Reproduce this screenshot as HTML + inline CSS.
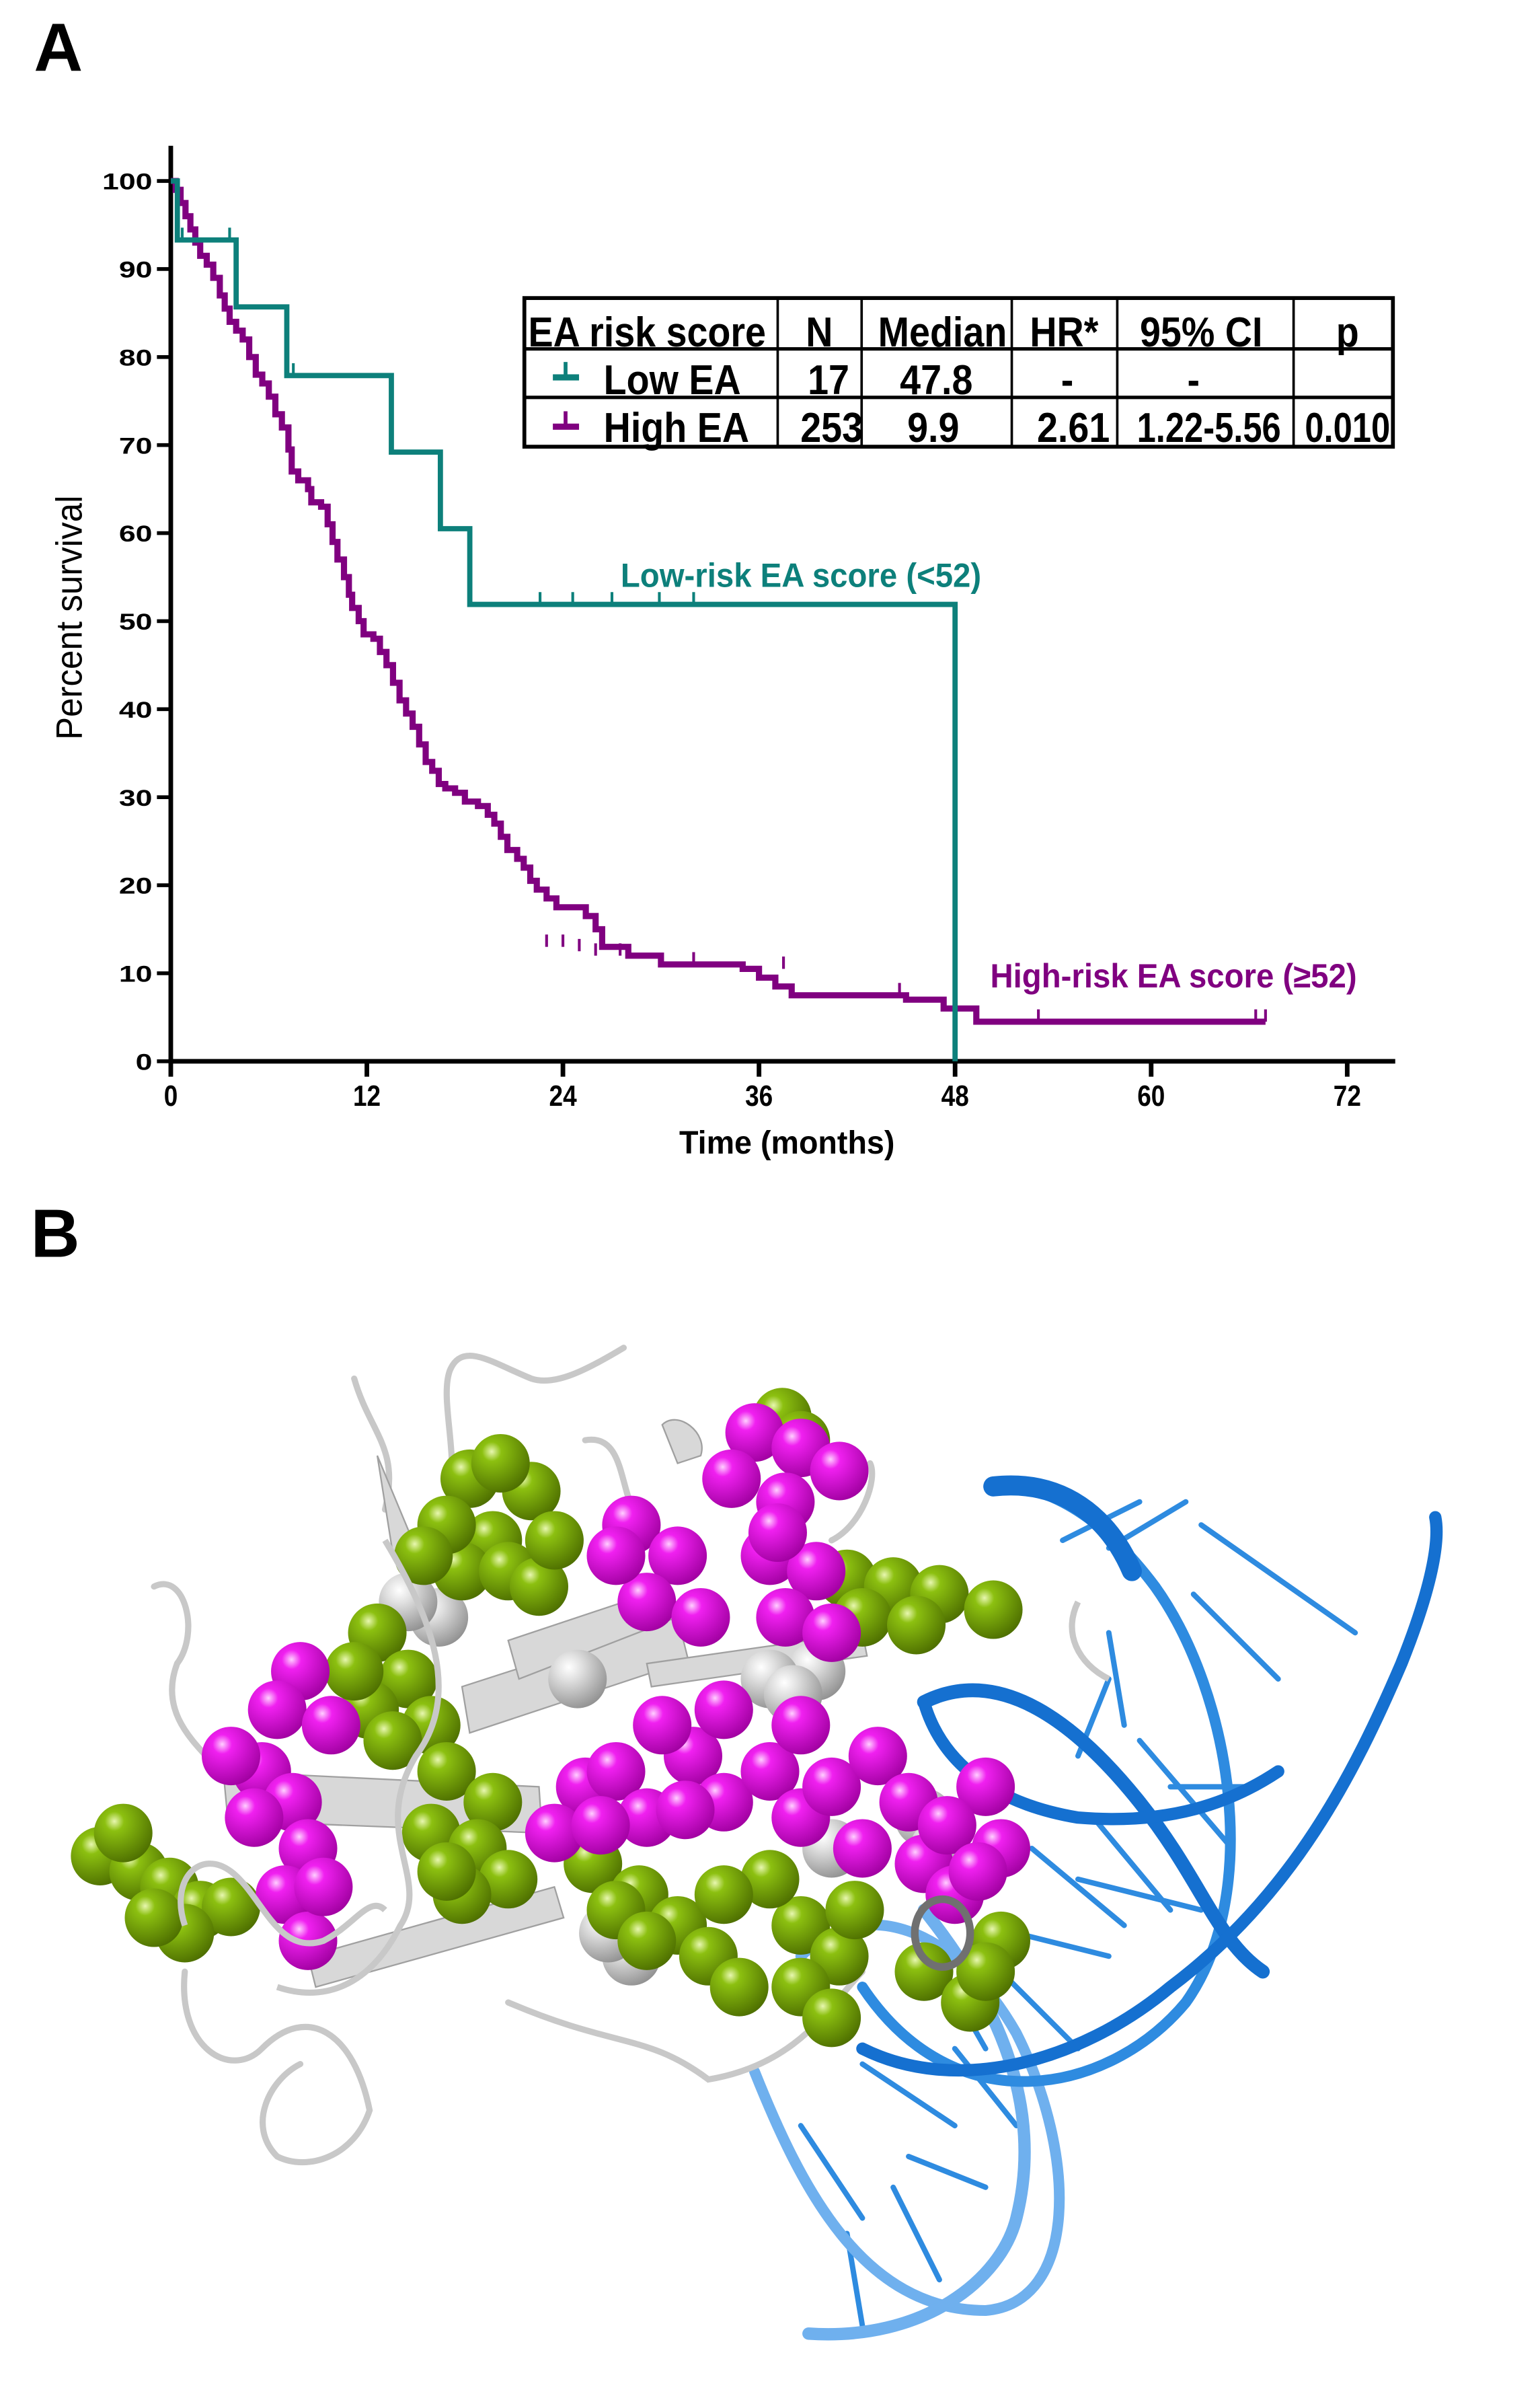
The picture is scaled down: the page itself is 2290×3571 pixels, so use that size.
<!DOCTYPE html>
<html><head><meta charset="utf-8"><style>
html,body{margin:0;padding:0;background:#fff}
svg{display:block}
text{font-family:"Liberation Sans",sans-serif;font-weight:bold}
</style></head><body>
<svg id="fig" width="2290" height="3571" viewBox="0 0 1000 1559.4" xmlns="http://www.w3.org/2000/svg">
<defs>
<radialGradient id="gG" cx="0.35" cy="0.3" r="0.75"><stop offset="0" stop-color="#e8f7b0"/><stop offset="0.22" stop-color="#8cc010"/><stop offset="1" stop-color="#4d6e00"/></radialGradient>
<radialGradient id="gM" cx="0.35" cy="0.3" r="0.75"><stop offset="0" stop-color="#ffd0ff"/><stop offset="0.22" stop-color="#f020f0"/><stop offset="1" stop-color="#a000a0"/></radialGradient>
<radialGradient id="gW" cx="0.35" cy="0.3" r="0.75"><stop offset="0" stop-color="#ffffff"/><stop offset="0.3" stop-color="#e0e0e0"/><stop offset="1" stop-color="#909090"/></radialGradient>
</defs>
<text x="22" y="46" font-size="44">A</text>
<text x="20" y="816" font-size="44">B</text>
<g id="chart"></g>
<g id="struct"></g>
</svg>
<script>
// ---- data ----
const lowTimes = [0, 0.4, 4.0, 7.1, 13.5, 16.5, 18.3, 48.0];
const lowSurv  = [100, 93.3, 85.7, 77.9, 69.2, 60.5, 51.9, 0];
const lowCensorTimes = [0.7, 3.6, 7.5, 22.6, 24.6, 27.0, 29.9, 32.0];
const lowCensorSurv  = [93.3, 93.3, 77.9, 51.9, 51.9, 51.9, 51.9, 51.9];
const highTimes = [0,0.3,0.6,0.9,1.2,1.5,1.8,2.2,2.6,3.0,3.3,3.6,4.0,4.4,4.8,5.2,5.6,6.0,6.4,6.8,7.2,7.4,7.8,8.4,8.6,9.2,9.6,9.9,10.2,10.6,10.9,11.1,11.5,11.8,12.4,12.8,13.2,13.6,14.0,14.4,14.8,15.2,15.6,16.0,16.4,16.8,17.4,18.0,18.8,19.4,19.8,20.2,20.6,21.2,21.6,22.0,22.4,23.0,23.6,24.8,25.4,26.0,26.4,28.0,30.0,35.0,36.0,37.0,38.0,45.0,47.3,49.3,67.0];
const highSurv  = [100,99,97.5,96,94.5,93,91.5,90.5,89,87,85.5,84,83,82,80,78,77,75.5,73.5,72,69.5,67,66,65,63.5,63,61,59,57,55,53,51.5,50,48.5,48,46.5,45,43,41,39.5,38,36,34,33,31.5,31,30.5,29.5,29,28,27,25.5,24,23,22,20.5,19.5,18.5,17.5,17.5,16.5,15,13,12,11,10.5,9.5,8.5,7.5,7,6,4.5,4.5];
const highCensorTimes = [23.0, 24.0, 25.0, 26.0, 27.5, 32.0, 37.5, 44.6, 53.1, 66.4, 67.0];
const highCensorSurv  = [13, 13, 12.5, 12, 12, 11, 10.5, 7.5, 4.5, 4.5, 4.5];
const xTicks = [0, 12, 24, 36, 48, 60, 72];
const yTicks = [0, 10, 20, 30, 40, 50, 60, 70, 80, 90, 100];

const NS = "http://www.w3.org/2000/svg";
function X(t){ return 110.9 + t * 10.61; }
function Y(s){ return 689 - s * 5.715; }
function mk(tag, attrs, parent){ const e=document.createElementNS(NS,tag); for(const k in attrs) e.setAttribute(k,attrs[k]); parent.appendChild(e); return e; }
function txt(parent, str, x, y, size, anchor, sx, fill, extra){
  const t = mk('text',Object.assign({x:0,y:0,'text-anchor':anchor,'font-size':size,fill:fill||'#000',transform:'translate('+x+','+y+') scale('+sx+',1)'},extra||{}),parent);
  t.textContent = str; return t;
}
const chart = document.getElementById('chart');

let ya = mk('line',{x1:X(0),y1:Y(0)+1.5,x2:X(0),y2:Y(104),stroke:'#000','stroke-width':3},chart);


let xa = mk('line',{x1:X(0)-1.5,y1:Y(0),x2:906,y2:Y(0),stroke:'#000','stroke-width':3},chart);


yTicks.forEach(v=>{
  let l = mk('line',{x1:X(0)-9,y1:Y(v),x2:X(0),y2:Y(v),stroke:'#000','stroke-width':2.5},chart);
  
  
  let t = txt(chart, String(v), X(0)-12, Y(v)+5.5, 15, 'end', 1.3);
  
  
});
xTicks.forEach(v=>{
  let l = mk('line',{x1:X(v),y1:Y(0),x2:X(v),y2:Y(0)+10,stroke:'#000','stroke-width':3},chart);
  
  
  let t = txt(chart, String(v), X(v), Y(0)+29, 19, 'middle', 0.85);
  
  
});
let yt = mk('text',{x:0,y:0,'text-anchor':'middle','font-size':24,transform:'translate(53,401) rotate(-90) scale(0.93,1)',style:'font-weight:normal'},chart);
yt.textContent='Percent survival';


let xt = txt(chart,'Time (months)',511,749,21,'middle',0.97);



function stepPath(ts, ss){
  let d = 'M'+X(ts[0])+','+Y(ss[0]);
  for(let i=1;i<ts.length;i++){ d += ' H'+X(ts[i])+' V'+Y(ss[i]); }
  return d;
}
let hp = mk('path',{d:stepPath(highTimes,highSurv),fill:'none',stroke:'#800080','stroke-width':4},chart);


highCensorTimes.forEach((t,i)=>{
  let c = mk('line',{x1:X(t),y1:Y(highCensorSurv[i]),x2:X(t),y2:Y(highCensorSurv[i])-8,stroke:'#800080','stroke-width':1.8},chart);
  
  
});
let lp = mk('path',{d:stepPath(lowTimes,lowSurv),fill:'none',stroke:'#0d807b','stroke-width':3.4},chart);


lowCensorTimes.forEach((t,i)=>{
  let c = mk('line',{x1:X(t),y1:Y(lowCensorSurv[i]),x2:X(t),y2:Y(lowCensorSurv[i])-8,stroke:'#0d807b','stroke-width':1.8},chart);
  
  
});
let ll = txt(chart,'Low-risk EA score (<52)',403,381,22,'start',0.94,'#0d807b');


let hl = txt(chart,'High-risk EA score (\u226552)',643,641,22,'start',0.94,'#800080');



const tbl = mk('g',{},chart);


const colX=[340.5,505,559.5,657,725.5,840,904.5];
const rowY=[193.5,226.5,258,290];
mk('rect',{x:colX[0],y:rowY[0],width:colX[6]-colX[0],height:rowY[3]-rowY[0],fill:'none',stroke:'#000','stroke-width':2.5},tbl);
rowY.slice(1,3).forEach(y=>mk('line',{x1:colX[0],y1:y,x2:colX[6],y2:y,stroke:'#000','stroke-width':2.2},tbl));
colX.slice(1,6).forEach(x=>mk('line',{x1:x,y1:rowY[0],x2:x,y2:rowY[3],stroke:'#000','stroke-width':1.6},tbl));
const cells=[
 [['EA risk score',343,'start'],['N',532,'middle'],['Median',612,'middle'],['HR*',691,'middle'],['95% CI',780,'middle'],['p',875,'middle']],
 [['Low EA',392,'start'],['17',538,'middle'],['47.8',608,'middle'],['-',693,'middle'],['-',775,'middle']],
 [['High EA',392,'start'],['253',540,'middle'],['9.9',606,'middle'],['2.61',697,'middle'],['1.22-5.56',785,'middle'],['0.010',875,'middle']]
];
const baseY=[225,256,287];
cells.forEach((row,ri)=>row.forEach(c=>{
  let t=txt(tbl,c[0],c[1],baseY[ri],27,c[2],c[0]==='1.22-5.56'||c[0]==='0.010'?0.82:0.9);
  
  
}));
[['#0d807b',245],['#800080',277]].forEach(m=>{
  mk('rect',{x:359,y:m[1]-2,width:17,height:4,fill:m[0]},tbl);
  mk('rect',{x:366,y:m[1]-10,width:2.5,height:9,fill:m[0]},tbl);
});

const S=document.getElementById('struct');
const dnaDark='#1570d0', dnaMid='#2e8be0', dnaLight='#6fb0ee';
const sticks=[[690,1000,740,975],[720,1005,770,975],[780,990,880,1060],[775,1035,830,1090],[720,1060,730,1120],[700,1140,720,1090],[740,1130,800,1200],[710,1180,760,1240],[670,1200,730,1250],[640,1250,720,1270],[600,1260,640,1330],[620,1330,660,1380],[560,1340,620,1380],[590,1400,640,1420],[550,1450,560,1510],[580,1420,610,1480],[760,1160,810,1160],[700,1220,780,1240],[650,1280,700,1330],[520,1380,560,1440]];
sticks.forEach(s=>mk('line',{x1:s[0],y1:s[1],x2:s[2],y2:s[3],stroke:dnaMid,'stroke-width':3.5,'stroke-linecap':'round'},S));
[
 ['M490,1345 C520,1420 560,1500 640,1500 C700,1495 700,1400 660,1320 C620,1250 560,1230 520,1270',dnaLight,7],
 ['M525,1515 C600,1520 650,1480 660,1440 C680,1360 640,1290 600,1240',dnaLight,8],
 ['M560,1290 C620,1380 720,1360 770,1300 C820,1230 800,1100 750,1030 C720,990 690,970 660,965',dnaMid,7],
 ['M645,965 C690,960 720,985 735,1020',dnaDark,13],
 ['M600,1105 C650,1080 700,1120 740,1170 C780,1220 790,1260 820,1280',dnaDark,9],
 ['M560,1330 C620,1360 700,1340 760,1290 C840,1230 880,1150 910,1080 C930,1030 935,1000 932,985',dnaDark,8],
 ['M600,1105 C610,1140 640,1170 700,1180 C760,1185 800,1170 830,1150',dnaDark,8]
].forEach(p=>mk('path',{d:p[0],fill:'none',stroke:p[1],'stroke-width':p[2],'stroke-linecap':'round'},S));
const gray='#c8c8c8';
['M405,875 C380,890 360,900 345,895 C320,885 300,870 292,890 C285,910 300,950 290,980',
 'M230,895 C240,930 260,940 250,980',
 'M100,1030 C120,1020 130,1060 115,1080 C100,1120 140,1140 150,1160',
 'M120,1280 C115,1330 150,1350 170,1330 C200,1300 230,1320 240,1370 C230,1400 200,1410 180,1400 C160,1380 175,1350 195,1340',
 'M330,1300 C400,1330 420,1320 460,1350 C520,1340 540,1300 560,1280',
 'M380,935 C410,930 400,980 420,990 C440,1010 430,1050 440,1060',
 'M540,1000 C560,990 570,960 565,950'
].forEach(d=>mk('path',{d:d,fill:'none',stroke:gray,'stroke-width':4,'stroke-linecap':'round'},S));
[['M145,1150 L350,1160 L352,1190 L148,1182 Z'],['M300,1095 L440,1050 L447,1078 L305,1125 Z'],['M330,1065 L420,1035 L427,1055 L337,1090 Z'],
 ['M200,1270 L360,1225 L366,1245 L205,1290 Z'],['M245,945 L270,1005 L255,1008 Z'],['M430,925 C440,915 460,930 455,945 L440,950 Z'],
 ['M420,1080 L560,1060 L563,1075 L423,1095 Z']]
.forEach(p=>mk('path',{d:p[0],fill:'#d8d8d8',stroke:'#a0a0a0','stroke-width':1},S));
const green=[[65,1205],[90,1215],[80,1190],[110,1225],[130,1240],[150,1238],[120,1255],[100,1245],
 [245,1060],[265,1090],[240,1110],[280,1120],[255,1130],[230,1085],[290,1150],[320,1170],
 [305,960],[345,968],[320,1000],[300,1020],[330,1020],[350,1030],[290,990],[360,1000],[325,950],[275,1010],
 [280,1190],[310,1200],[330,1220],[300,1230],[290,1215],
 [550,1025],[580,1030],[610,1035],[645,1045],[560,1050],[595,1055],[508,920],[520,935],
 [385,1210],[415,1230],[440,1250],[460,1270],[480,1290],[520,1250],[545,1270],[555,1240],[600,1280],[630,1300],[650,1260],[500,1220],[470,1230],[640,1280],[400,1240],[420,1260],[520,1290],[540,1310]];
const mag=[[195,1085],[180,1110],[170,1150],[190,1170],[200,1200],[185,1230],[200,1260],[165,1180],[150,1140],[215,1120],[210,1225],
 [410,990],[440,1010],[420,1040],[455,1050],[400,1010],
 [490,930],[520,940],[545,955],[510,975],[500,1010],[530,1020],[510,1050],[540,1060],[475,960],[505,995],
 [380,1160],[400,1150],[420,1180],[450,1140],[470,1170],[500,1150],[520,1180],[540,1160],[570,1140],[590,1170],[560,1200],[600,1210],[620,1230],[640,1160],[650,1200],[430,1120],[470,1110],[520,1120],[360,1190],[390,1185],[445,1175],[615,1185],[635,1215]];
const white=[[285,1050],[265,1040],[375,1090],[530,1085],[500,1090],[600,1180],[410,1270],[395,1255],[540,1200],[610,1200],[515,1100]];
function balls(arr,fill,name){arr.forEach(c=>{let e=mk('circle',{cx:c[0],cy:c[1],r:19,fill:fill},S);
  
  });}
balls(white,'url(#gW)','residue-sphere-gray');
balls(green,'url(#gG)','residue-sphere-green');
balls(mag,'url(#gM)','residue-sphere-magenta');
mk('path',{d:'M250,1000 C280,1050 300,1100 270,1140 C240,1190 280,1220 260,1250 C240,1290 210,1300 180,1290',fill:'none',stroke:gray,'stroke-width':4},S);
mk('path',{d:'M120,1250 C110,1220 130,1200 150,1215 C170,1230 180,1270 210,1260 C230,1250 240,1230 250,1240',fill:'none',stroke:gray,'stroke-width':4},S);
mk('path',{d:'M700,1040 C690,1060 700,1080 720,1090',fill:'none',stroke:gray,'stroke-width':4},S);
mk('ellipse',{cx:612,cy:1255,rx:18,ry:22,fill:'none',stroke:'#707070','stroke-width':5},S);
</script>
</body></html>
